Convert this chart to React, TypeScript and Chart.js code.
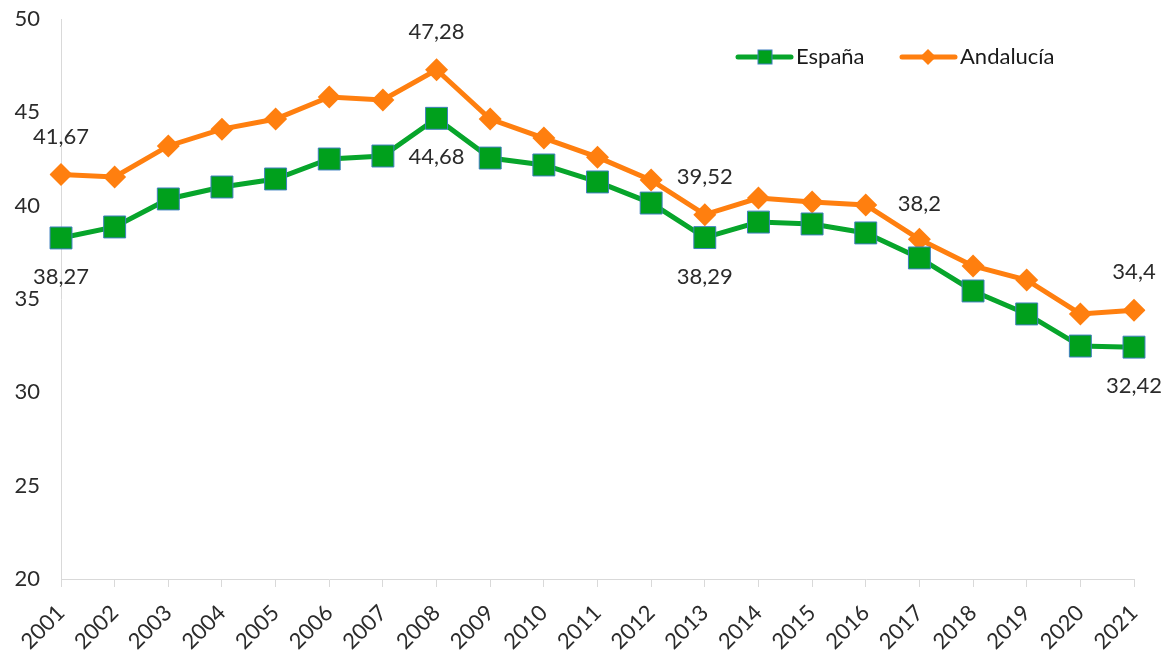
import React, { useEffect, useRef } from "react";
import { Chart, registerables } from "chart.js";

Chart.register(...registerables);

const years = ["2001","2002","2003","2004","2005","2006","2007","2008","2009","2010","2011","2012","2013","2014","2015","2016","2017","2018","2019","2020","2021"];
const espana = [38.27, 38.86, 40.36, 41.0, 41.43, 42.5, 42.66, 44.68, 42.55, 42.18, 41.27, 40.14, 38.29, 39.12, 39.02, 38.54, 37.2, 35.43, 34.2, 32.48, 32.42];
const andalucia = [41.67, 41.54, 43.2, 44.1, 44.64, 45.82, 45.66, 47.28, 44.64, 43.62, 42.6, 41.37, 39.52, 40.41, 40.2, 40.04, 38.2, 36.77, 36.02, 34.2, 34.4];
const seriesNames = ["España", "Andalucía"];
const yTicks = [20, 25, 30, 35, 40, 45, 50];
// indices of points that carry a value label
const labelledAndalucia = [0, 7, 12, 16, 20];
const labelledEspana = [0, 7, 12, 20];

const GREEN = "#07a52b";
const GREEN_FILL = "#00a01c";
const GREEN_BORDER = "#3f7fbf";
const ORANGE = "#ff7f0f";
const TEXT = "#2b2b2b";
const FONT = "Lato, 'Open Sans', sans-serif";

function fmt(v: number) {
  return String(v).replace(".", ",");
}

export default function App() {
  const ref = useRef<HTMLCanvasElement>(null);
  useEffect(() => {
    if (!ref.current) return;
    document.body.style.margin = "0";

    const labelsPlugin = {
      id: "valueLabels",
      afterDatasetsDraw(chart: any) {
        const ctx = chart.ctx;
        ctx.save();
        ctx.font = `22px ${FONT}`;
        ctx.fillStyle = TEXT;
        ctx.textAlign = "center";
        ctx.textBaseline = "middle";
        const andMeta = chart.getDatasetMeta(1);
        labelledAndalucia.forEach((i) => {
          const p = andMeta.data[i];
          const dy = i === 16 ? -35 : -38;
          ctx.fillText(fmt(andalucia[i]), p.x, p.y + dy);
        });
        const espMeta = chart.getDatasetMeta(0);
        labelledEspana.forEach((i) => {
          const p = espMeta.data[i];
          ctx.fillText(fmt(espana[i]), p.x, p.y + 39);
        });
        ctx.restore();
      },
    };

    const legendPlugin = {
      id: "customLegend",
      afterDraw(chart: any) {
        const ctx = chart.ctx;
        ctx.save();
        const y = 57;
        // España
        ctx.strokeStyle = GREEN;
        ctx.lineWidth = 5;
        ctx.lineCap = "round";
        ctx.beginPath();
        ctx.moveTo(738, y);
        ctx.lineTo(791, y);
        ctx.stroke();
        ctx.fillStyle = GREEN_FILL;
        ctx.fillRect(758, y - 7, 14, 14);
        ctx.strokeStyle = GREEN_BORDER;
        ctx.lineWidth = 1;
        ctx.strokeRect(758, y - 7, 14, 14);
        // Andalucía
        ctx.strokeStyle = ORANGE;
        ctx.lineWidth = 5;
        ctx.beginPath();
        ctx.moveTo(902, y);
        ctx.lineTo(955, y);
        ctx.stroke();
        ctx.fillStyle = ORANGE;
        ctx.beginPath();
        ctx.moveTo(928, y - 8);
        ctx.lineTo(936, y);
        ctx.lineTo(928, y + 8);
        ctx.lineTo(920, y);
        ctx.closePath();
        ctx.fill();
        ctx.font = `22px ${FONT}`;
        ctx.fillStyle = "#1a1a1a";
        ctx.textAlign = "left";
        ctx.textBaseline = "middle";
        ctx.fillText(seriesNames[0], 796, y);
        ctx.fillText(seriesNames[1], 960, y);
        ctx.restore();
      },
    };

    const chart = new Chart(ref.current, {
      type: "line",
      data: {
        labels: years,
        datasets: [
          {
            label: seriesNames[0],
            data: espana,
            borderColor: GREEN,
            borderWidth: 5,
            backgroundColor: GREEN_FILL,
            pointStyle: "rect",
            pointRadius: 15.5,
            pointBorderColor: GREEN_BORDER,
            pointBorderWidth: 1,
            pointBackgroundColor: GREEN_FILL,
            tension: 0,
          },
          {
            label: seriesNames[1],
            data: andalucia,
            borderColor: ORANGE,
            borderWidth: 5,
            backgroundColor: ORANGE,
            pointStyle: "rectRot",
            pointRadius: 11.5,
            pointBorderWidth: 0,
            pointBackgroundColor: ORANGE,
            tension: 0,
          },
        ],
      },
      options: {
        animation: false,
        responsive: false,
        layout: { padding: { top: 19, right: 38, left: 0, bottom: 0 } },
        plugins: {
          legend: { display: false },
          tooltip: { enabled: false },
        },
        scales: {
          x: {
            offset: false,
            grid: {
              display: true,
              drawOnChartArea: false,
              drawTicks: true,
              tickLength: 8,
              color: "#d9d9d9",
            },
            border: { display: true, color: "#d9d9d9", width: 1 },
            ticks: {
              minRotation: 45,
              maxRotation: 45,
              autoSkip: false,
              padding: 13,
              color: TEXT,
              font: { size: 22, family: FONT },
            },
            afterFit(scale: any) {
              scale.height = 76;
              scale.paddingTop = 0;
              scale.paddingBottom = 0;
            },
          },
          y: {
            min: 20,
            max: 50,
            afterBuildTicks(scale: any) {
              scale.ticks = yTicks.map((v) => ({ value: v }));
            },
            grid: { display: false, drawTicks: false },
            border: { display: true, color: "#d9d9d9", width: 1 },
            ticks: {
              padding: 21,
              color: TEXT,
              font: { size: 22, family: FONT },
            },
            afterFit(scale: any) {
              scale.width = 61;
              scale.paddingTop = 0;
              scale.paddingBottom = 0;
            },
          },
        },
      },
      plugins: [labelsPlugin, legendPlugin],
    });
    return () => chart.destroy();
  }, []);

  return (
    <div style={{ position: "fixed", left: 0, top: 0, width: 1172, height: 655, background: "#fff" }}>
      <canvas ref={ref} width={1172} height={655} style={{ width: 1172, height: 655 }} />
    </div>
  );
}
